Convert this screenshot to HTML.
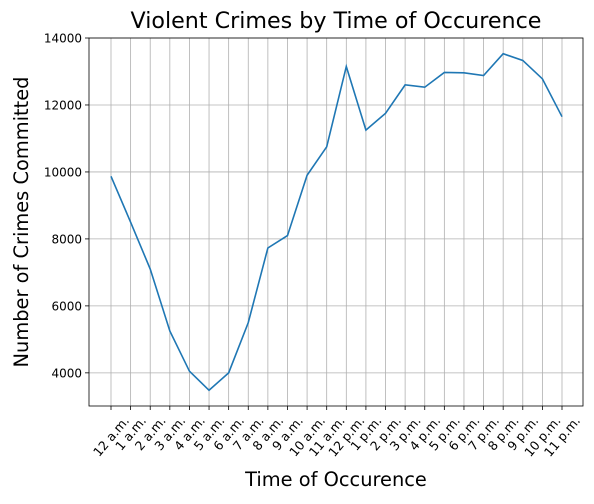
<!DOCTYPE html>
<html><head><meta charset="utf-8"><style>
body{margin:0;background:#fff;font-family:"DejaVu Sans","Liberation Sans",sans-serif}
</style></head><body>
<svg id="c" width="594" height="500" xmlns="http://www.w3.org/2000/svg" font-family="DejaVu Sans, Liberation Sans, sans-serif"></svg>
<script>
const categories=["12 a.m.","1 a.m.","2 a.m.","3 a.m.","4 a.m.","5 a.m.","6 a.m.","7 a.m.","8 a.m.","9 a.m.","10 a.m.","11 a.m.","12 p.m.","1 p.m.","2 p.m.","3 p.m.","4 p.m.","5 p.m.","6 p.m.","7 p.m.","8 p.m.","9 p.m.","10 p.m.","11 p.m."];
const crimes=[9870,8500,7100,5250,4050,3480,4000,5500,7730,8100,9900,10750,13150,11250,11750,12600,12530,12970,12960,12880,13530,13330,12780,11650];
const yTicks=[4000,6000,8000,10000,12000,14000];
const svg=document.getElementById('c');const NS="http://www.w3.org/2000/svg";
const L=89,R=583,T=38,B=406,yMin=3010,yMax=14000;
const x=i=>111+i*(562-111)/(categories.length-1);
const y=v=>B-(v-yMin)/(yMax-yMin)*(B-T);
function mk(t,a,p){const e=document.createElementNS(NS,t);for(const k in a)e.setAttribute(k,a[k]);(p||svg).appendChild(e);return e;}
const grid=mk('g',{});


const ang=50*Math.PI/180;
categories.forEach((c,i)=>{mk('line',{x1:x(i),x2:x(i),y1:T,y2:B,stroke:'#b0b0b0','stroke-width':0.8},grid);
mk('line',{x1:x(i),x2:x(i),y1:B,y2:B+4,stroke:'#000','stroke-width':0.8});
const t=mk('text',{x:x(i),y:0,'font-size':12.5,'text-anchor':'middle','dominant-baseline':'central'});t.textContent=c;
const w=t.getComputedTextLength();const h=w*Math.sin(ang)+12.5*Math.cos(ang);const cy=B+8+h/2;
t.setAttribute('y',cy);t.setAttribute('transform',`rotate(-50 ${x(i)} ${cy})`);

});
yTicks.forEach(v=>{mk('line',{x1:L,x2:R,y1:y(v),y2:y(v),stroke:'#b0b0b0','stroke-width':0.8},grid);
mk('line',{x1:L-4,x2:L,y1:y(v),y2:y(v),stroke:'#000','stroke-width':0.8});
const t=mk('text',{x:L-7,y:y(v)+4.5,'font-size':12,'text-anchor':'end'});t.textContent=v;

});
const line=mk('polyline',{points:crimes.map((v,i)=>x(i)+','+y(v)).join(' '),fill:'none',stroke:'#1f77b4','stroke-width':1.6});


const fr=mk('rect',{x:L,y:T,width:R-L,height:B-T,fill:'none',stroke:'#000','stroke-width':0.8});


const ti=mk('text',{x:(L+R)/2,y:28,'font-size':22.2,'text-anchor':'middle'});ti.textContent='Violent Crimes by Time of Occurence';


const xt=mk('text',{x:(L+R)/2,y:486,'font-size':19.4,'text-anchor':'middle'});xt.textContent='Time of Occurence';


const yt=mk('text',{x:28,y:(T+B)/2,'font-size':19.4,'text-anchor':'middle',transform:`rotate(-90 28 ${(T+B)/2})`});yt.textContent='Number of Crimes Committed';


</script>
</body></html>
